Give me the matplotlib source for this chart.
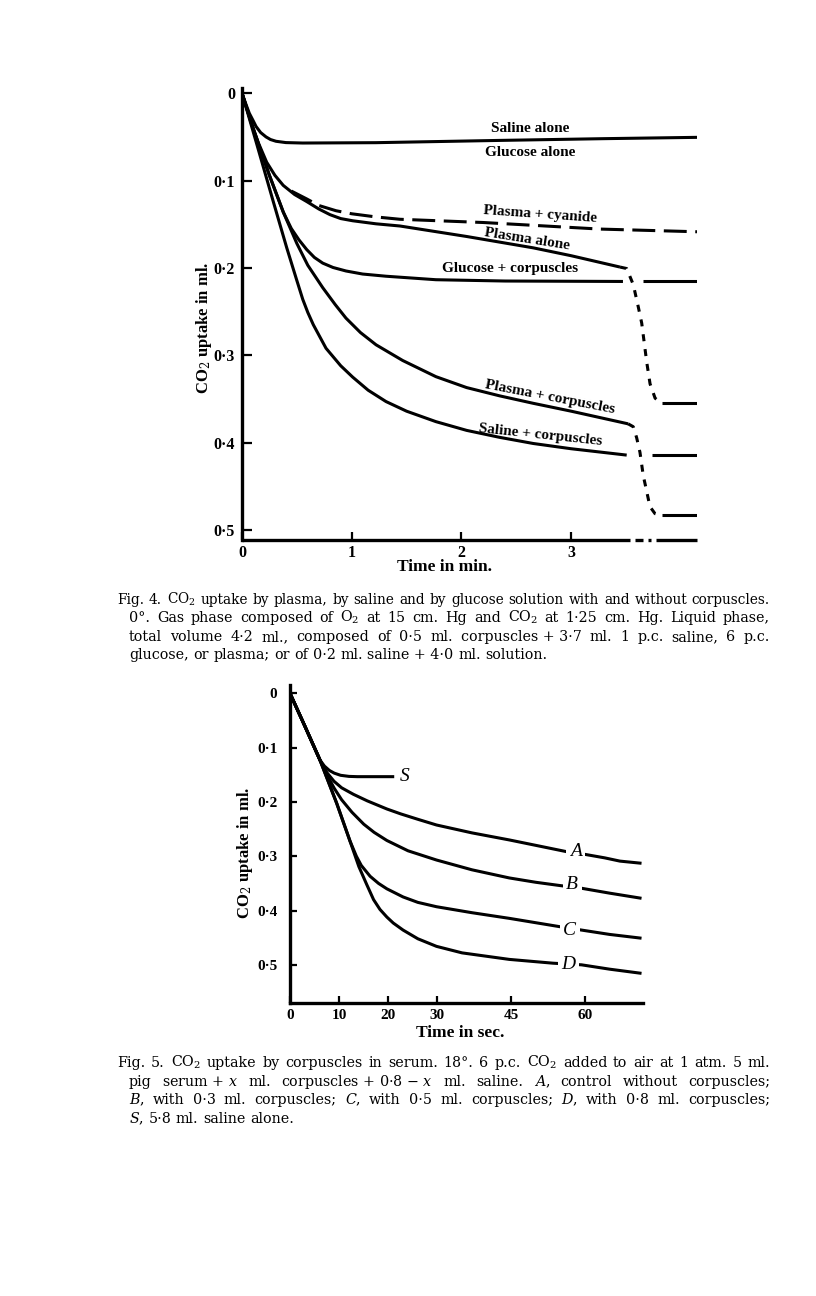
"""
Fig. 4 / Fig. 5 page: CO2 uptake curves (plasma, saline, glucose, corpuscles).
"""

import matplotlib
matplotlib.use("Agg")
import matplotlib.pyplot as plt

W, H = 816, 1296

# ---------------- Fig. 4 data (time in min, CO2 uptake in ml) ----------------
saline_alone_t = [0, 0.04, 0.067, 0.1, 0.128, 0.17, 0.219, 0.26, 0.31, 0.4, 0.553, 1.22, 2.35, 3.3, 4.148]
saline_alone_v = [0, 0.014, 0.023, 0.031, 0.038, 0.045, 0.050, 0.053, 0.055, 0.0565, 0.057, 0.0566, 0.054,
                  0.052, 0.0505]

plasma_alone_t = [0, 0.08, 0.15, 0.225, 0.3, 0.376, 0.48, 0.59, 0.7, 0.802, 0.9, 1.009, 1.222, 1.44,
                  2.048, 2.655, 3.0, 3.446]
plasma_alone_v = [0, 0.032, 0.057, 0.079, 0.094, 0.1055, 0.116, 0.124, 0.1325, 0.139, 0.1435, 0.146,
                  0.1495, 0.152, 0.164, 0.177, 0.186, 0.199]

cyanide_t = [0.45, 0.59, 0.7, 0.857, 1.0, 1.22, 1.44, 2.2, 3.26, 4.148]
cyanide_v = [0.112, 0.121, 0.1285, 0.1345, 0.138, 0.1416, 0.1443, 0.148, 0.1555, 0.1586]

glucose_corp_t = [0, 0.1, 0.25, 0.376, 0.45, 0.52, 0.59, 0.66, 0.736, 0.83, 0.948, 1.1, 1.313, 1.768,
                  2.4, 3.473]
glucose_corp_v = [0, 0.040, 0.094, 0.136, 0.155, 0.168, 0.179, 0.188, 0.1945, 0.1995, 0.2035, 0.207,
                  0.2095, 0.2135, 0.2150, 0.2155]

plasma_corp_t = [0, 0.1, 0.25, 0.376, 0.5, 0.6, 0.736, 0.85, 0.948, 1.08, 1.222, 1.465, 1.768, 2.048,
                 2.35, 2.655, 3.0, 3.52]
plasma_corp_v = [0, 0.040, 0.094, 0.136, 0.172, 0.197, 0.2226, 0.242, 0.2575, 0.274, 0.288, 0.306,
                 0.3245, 0.337, 0.3465, 0.355, 0.364, 0.3785]

saline_corp_t = [0, 0.134, 0.285, 0.408, 0.499, 0.554, 0.6, 0.65, 0.766, 0.9, 1.009, 1.15, 1.313, 1.5,
                 1.768, 2.048, 2.35, 2.655, 3.0, 3.507]
saline_corp_v = [0, 0.058, 0.124, 0.177, 0.214, 0.236, 0.251, 0.265, 0.292, 0.312, 0.325, 0.340, 0.353,
                 0.364, 0.376, 0.386, 0.394, 0.401, 0.407, 0.4143]

# values after the break in the time axis: (start, end, level)
final_glucose_corp = (3.655, 4.148, 0.2155)
final_plasma_alone = (3.83, 4.148, 0.3545)
final_saline_corp = (3.735, 4.148, 0.4147)
final_plasma_corp = (3.83, 4.148, 0.483)

# dashed drops across the break
drop_plasma_alone_t = [3.446, 3.507, 3.567, 3.613, 3.644, 3.689, 3.72, 3.766, 3.811]
drop_plasma_alone_v = [0.199, 0.2007, 0.2191, 0.2448, 0.2632, 0.3073, 0.3327, 0.3491, 0.3539]
drop_plasma_corp_t = [3.52, 3.567, 3.598, 3.628, 3.658, 3.689, 3.719, 3.765, 3.81]
drop_plasma_corp_v = [0.3785, 0.3818, 0.3945, 0.4111, 0.4377, 0.4556, 0.4733, 0.4813, 0.4831]

fig4_yticks = [0, 0.1, 0.2, 0.3, 0.4, 0.5]
fig4_yticklabels = ["0", "0\u00b71", "0\u00b72", "0\u00b73", "0\u00b74", "0\u00b75"]
fig4_xticks = [0, 1, 2, 3]
fig4_xticklabels = ["0", "1", "2", "3"]

# ---------------- Fig. 5 data (time in sec, CO2 uptake in ml) ----------------
S_t = [0, 3, 6.1, 7.0, 8.0, 9.0, 10.3, 12.0, 13.7, 21.2]
S_v = [0, 0.06, 0.123, 0.134, 0.142, 0.147, 0.151, 0.153, 0.1535, 0.1535]

A_t = [0, 3, 6.1, 7.5, 8.95, 10.5, 12.9, 15.7, 19.7, 22.5, 26, 29.8, 37, 44.6, 50, 56.3, 59.3, 64,
       67.1, 71.5]
A_v = [0, 0.06, 0.123, 0.146, 0.162, 0.174, 0.186, 0.198, 0.213, 0.222, 0.232, 0.2425, 0.257, 0.270,
       0.280, 0.2917, 0.2955, 0.303, 0.309, 0.313]

B_t = [0, 3, 6.1, 7.5, 9.0, 10.5, 12.6, 15, 17.1, 19.7, 24.0, 29.8, 37, 44.6, 50, 54.9, 59.3, 65, 71.5]
B_v = [0, 0.06, 0.123, 0.150, 0.175, 0.196, 0.219, 0.241, 0.256, 0.271, 0.290, 0.307, 0.325, 0.340,
       0.348, 0.354, 0.359, 0.368, 0.3775]

C_t = [0, 3, 6.1, 9.5, 12.2, 13.5, 14.5, 16.3, 18, 19.7, 23.0, 26, 29.8, 37, 44.6, 54.9, 59.3, 65, 71.5]
C_v = [0, 0.06, 0.123, 0.2026, 0.272, 0.300, 0.317, 0.337, 0.350, 0.360, 0.375, 0.385, 0.393, 0.404,
       0.4144, 0.4298, 0.436, 0.444, 0.451]

D_t = [0, 3, 6.1, 9.5, 12.2, 14, 15.6, 17, 18.3, 19.7, 21.0, 23.0, 26, 29.8, 35, 44.6, 53.5, 59.3, 65,
       71.5]
D_v = [0, 0.06, 0.123, 0.2026, 0.272, 0.319, 0.352, 0.380, 0.398, 0.412, 0.423, 0.436, 0.452, 0.466,
       0.478, 0.490, 0.497, 0.500, 0.508, 0.5157]

fig5_yticks = [0, 0.1, 0.2, 0.3, 0.4, 0.5]
fig5_yticklabels = fig4_yticklabels
fig5_xticks = [0, 10, 20, 30, 45, 60]
fig5_xticklabels = ["0", "10", "20", "30", "45", "60"]

caption4 = [
    "Fig. 4.  CO$_2$ uptake by plasma, by saline and by glucose solution with and without corpuscles.",
    "0\u00b0.  Gas phase composed of O$_2$ at 15 cm. Hg and CO$_2$ at 1\u00b725 cm. Hg.  Liquid phase,",
    "total volume 4\u00b72 ml., composed of 0\u00b75 ml. corpuscles~+~3\u00b77 ml. 1 p.c. saline, 6 p.c.",
    "glucose, or plasma; or of 0\u00b72 ml. saline~+~4\u00b70 ml. solution.",
]
caption5 = [
    "Fig. 5.  CO$_2$ uptake by corpuscles in serum.  18\u00b0.  6 p.c. CO$_2$ added to air at 1 atm.  5 ml.",
    "pig serum~+~$x$ ml. corpuscles~+~0\u00b78~\u2212~$x$ ml. saline.  $A$, control without corpuscles;",
    "$B$, with 0\u00b73 ml. corpuscles; $C$, with 0\u00b75 ml. corpuscles; $D$, with 0\u00b78 ml. corpuscles;",
    "$S$, 5\u00b78 ml. saline alone.",
]

plt.rcParams["mathtext.fontset"] = "dejavuserif"
plt.rcParams["font.family"] = ["Liberation Serif", "DejaVu Serif"]

fig = plt.figure(figsize=(W / 100, H / 100), dpi=100)
fig.patch.set_facecolor("white")


def px_axes(left, top, right, bottom):
    return fig.add_axes([left / W, 1 - bottom / H, (right - left) / W, (bottom - top) / H])


def fig_text(x, y, s, **kw):
    return fig.text(x / W, 1 - y / H, s, **kw)


def bold_ticks(ax):
    for lab in ax.get_xticklabels() + ax.get_yticklabels():
        lab.set_fontweight("bold")


LW = 2.2
line_kw = dict(color="black", lw=LW, solid_capstyle="butt", solid_joinstyle="round")

# ---------------- Fig. 4 ----------------
ax4 = px_axes(242, 88, 697, 540)
ax4.set_xlim(0, 4.148)
ax4.set_ylim(0.5115, -0.006)
for side in ["top", "right", "bottom"]:
    ax4.spines[side].set_visible(False)
ax4.spines["left"].set_linewidth(2.4)

ax4.plot(saline_alone_t, saline_alone_v, **line_kw)
ax4.plot(plasma_alone_t, plasma_alone_v, **line_kw)
ax4.plot(cyanide_t, cyanide_v, color="black", lw=LW, dashes=(7.5, 2.8))
ax4.plot(glucose_corp_t, glucose_corp_v, **line_kw)
ax4.plot(plasma_corp_t, plasma_corp_v, **line_kw)
ax4.plot(saline_corp_t, saline_corp_v, **line_kw)
for t0, t1, v in [final_glucose_corp, final_plasma_alone, final_saline_corp, final_plasma_corp]:
    ax4.plot([t0, t1], [v, v], **line_kw)
ax4.plot(drop_plasma_alone_t, drop_plasma_alone_v, color="black", lw=LW, dashes=(2.3, 2.6))
ax4.plot(drop_plasma_corp_t, drop_plasma_corp_v, color="black", lw=LW, dashes=(2.3, 2.6))

# broken time axis
xt = ax4.get_xaxis_transform()
for a, b in [(0, 3.537), (3.583, 3.656), (3.70, 3.725), (3.775, 4.148)]:
    ax4.plot([a, b], [0, 0], color="black", lw=2.4, transform=xt, clip_on=False,
             solid_capstyle="butt")

ax4.set_yticks(fig4_yticks)
ax4.set_yticklabels(fig4_yticklabels)
ax4.set_xticks(fig4_xticks)
ax4.set_xticklabels(fig4_xticklabels)
ax4.tick_params(axis="y", direction="in", length=7, width=1.6, pad=5, labelsize=11.5)
ax4.tick_params(axis="x", direction="in", length=6, width=1.6, pad=3.5, labelsize=11.5)
bold_ticks(ax4)

lab4 = dict(ha="center", va="center", fontsize=11, fontweight="bold", rotation_mode="anchor")
ax4.text(2.625, 0.0405, "Saline alone", **lab4)
ax4.text(2.625, 0.0675, "Glucose alone", **lab4)
ax4.text(2.716, 0.1388, "Plasma + cyanide", rotation=-4, **lab4)
ax4.text(2.598, 0.1674, "Plasma alone", rotation=-9, **lab4)
ax4.text(2.443, 0.2003, "Glucose + corpuscles", **lab4)
ax4.text(2.808, 0.3477, "Plasma + corpuscles", rotation=-11, **lab4)
ax4.text(2.717, 0.3913, "Saline + corpuscles", rotation=-6, **lab4)

fig_text(204, 328, "CO$_2$ uptake in ml.", rotation=90, ha="center", va="center", fontsize=12,
         fontweight="bold")
fig_text(445, 567, "Time in min.", ha="center", va="center", fontsize=12.5, fontweight="bold")

# ---------------- Fig. 5 ----------------
ax5 = px_axes(290, 685, 643, 1003)
ax5.set_xlim(0, 71.8)
ax5.set_ylim(0.5703, -0.0153)
for side in ["top", "right"]:
    ax5.spines[side].set_visible(False)
for side in ["left", "bottom"]:
    ax5.spines[side].set_linewidth(2.4)

for tt, vv in [(S_t, S_v), (A_t, A_v), (B_t, B_v), (C_t, C_v), (D_t, D_v)]:
    ax5.plot(tt, vv, **line_kw)

ax5.set_yticks(fig5_yticks)
ax5.set_yticklabels(fig5_yticklabels)
ax5.set_xticks(fig5_xticks)
ax5.set_xticklabels(fig5_xticklabels)
ax5.tick_params(axis="y", direction="in", length=5, width=1.6, pad=9, labelsize=11)
ax5.tick_params(axis="x", direction="in", length=5, width=1.6, pad=4, labelsize=11)
bold_ticks(ax5)

lab5 = dict(ha="center", va="center", fontsize=14, style="italic",
            bbox=dict(facecolor="white", edgecolor="none", pad=2.5))
ax5.text(58.1, 0.2917, "A", **lab5)
ax5.text(57.4, 0.353, "B", **lab5)
ax5.text(56.9, 0.4359, "C", **lab5)
ax5.text(56.7, 0.4995, "D", **lab5)
ax5.text(23.4, 0.1535, "S", ha="center", va="center", fontsize=14, style="italic")

fig_text(245, 853, "CO$_2$ uptake in ml.", rotation=90, ha="center", va="center", fontsize=12,
         fontweight="bold")
fig_text(460, 1033, "Time in sec.", ha="center", va="center", fontsize=12.5, fontweight="bold")


# ---------------- captions (justified lines) ----------------
def caption_line(text, x0, x1, y, justify=True, size=10.3):
    r = fig.canvas.get_renderer()
    words = [w.replace("~", " ") for w in text.split()]
    arts = [fig_text(0, y, w, family="DejaVu Serif", fontsize=size, va="baseline", ha="left")
            for w in words]
    widths = [a.get_window_extent(r).width for a in arts]
    if justify and len(words) > 1:
        gap = (x1 - x0 - sum(widths)) / (len(words) - 1)
        # shrink the line a little if the words do not fit with a normal space
        while gap < 4.5 and size > 8:
            size -= 0.1
            for a in arts:
                a.set_fontsize(size)
            widths = [a.get_window_extent(r).width for a in arts]
            gap = (x1 - x0 - sum(widths)) / (len(words) - 1)
    else:
        gap = size * 0.32 * 100 / 72
    x = x0
    for a, w in zip(arts, widths):
        a.set_x(x / W)
        x += w + gap


for i, (line, y) in enumerate(zip(caption4, [604, 622, 641, 659])):
    caption_line(line, 117 if i == 0 else 129, 770, y, justify=i < 3)
for i, (line, y) in enumerate(zip(caption5, [1067, 1086, 1104, 1123])):
    caption_line(line, 117 if i == 0 else 129, 770, y, justify=i < 3)

fig.savefig("out.png", dpi=100, facecolor="white")
